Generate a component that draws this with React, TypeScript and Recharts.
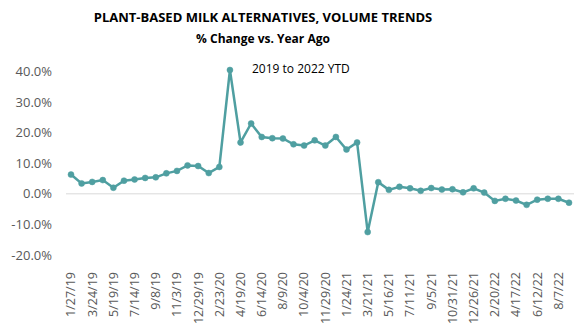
import React from 'react';
import { LineChart, Line, XAxis, YAxis, ReferenceLine } from 'recharts';

// 4-week periods, Jan 2019 to Sep 2022
const periods = [
  '1/27/19', '2/24/19', '3/24/19', '4/21/19', '5/19/19', '6/16/19', '7/14/19', '8/11/19',
  '9/8/19', '10/6/19', '11/3/19', '12/1/19', '12/29/19', '1/26/20', '2/23/20', '3/22/20',
  '4/19/20', '5/17/20', '6/14/20', '7/12/20', '8/9/20', '9/6/20', '10/4/20', '11/1/20',
  '11/29/20', '12/27/20', '1/24/21', '2/21/21', '3/21/21', '4/18/21', '5/16/21', '6/13/21',
  '7/11/21', '8/8/21', '9/5/21', '10/3/21', '10/31/21', '11/28/21', '12/26/21', '1/23/22',
  '2/20/22', '3/20/22', '4/17/22', '5/15/22', '6/12/22', '7/10/22', '8/7/22', '9/4/22',
];

const pctChange = [
  6.3, 3.4, 3.9, 4.5, 2.0, 4.3, 4.7, 5.2, 5.4, 6.7, 7.5, 9.3, 9.1, 6.8, 8.8, 40.5,
  16.8, 23.0, 18.6, 18.2, 18.1, 16.2, 15.8, 17.5, 15.8, 18.6, 14.5, 16.8, -12.5, 3.8, 1.3, 2.3,
  1.8, 1.0, 1.9, 1.4, 1.5, 0.5, 1.8, 0.4, -2.3, -1.6, -2.2, -3.6, -1.9, -1.6, -1.6, -2.9,
];

const yTicks = [-20, -10, 0, 10, 20, 30, 40];

const data = periods.map((p, i) => ({ period: p, value: pctChange[i] }));

const FONT = '"Open Sans", sans-serif';
const LINE = '#4f9fa1';

// only every other period gets a label (8-week steps)
const XTick = (props: any) => {
  const { x, y, payload, index } = props;
  if (index % 2 !== 0) return null;
  return (
    <text
      x={x}
      y={y + 9}
      transform={`rotate(-90, ${x}, ${y + 9})`}
      textAnchor="end"
      dy="0.35em"
      fontSize={12.5}
      fontFamily={FONT}
      fill="#595959"
    >
      {payload.value}
    </text>
  );
};

export default function App() {
  return (
    <div style={{ position: 'absolute', left: 0, top: 0, width: 584, height: 325, background: '#fff', fontFamily: FONT }}>
      <div style={{ position: 'absolute', left: 0, top: 8, width: 526, textAlign: 'center', fontWeight: 700, fontSize: 13, color: '#000' }}>
        PLANT-BASED MILK ALTERNATIVES, VOLUME TRENDS
      </div>
      <div style={{ position: 'absolute', left: 0, top: 30, width: 526, textAlign: 'center', fontWeight: 700, fontSize: 12, color: '#000' }}>
        % Change vs. Year Ago
      </div>
      <div style={{ position: 'absolute', left: 252, top: 60, fontSize: 12, color: '#000' }}>
        2019 to 2022 YTD
      </div>
      <LineChart width={584} height={325} data={data} margin={{ top: 70, right: 10, left: 0, bottom: 69 }}>
        <XAxis
          dataKey="period"
          interval={0}
          tick={<XTick />}
          tickLine={false}
          axisLine={false}
          padding={{ left: 5, right: 5 }}
          height={1}
        />
        <YAxis
          domain={[-20, 40]}
          ticks={yTicks}
          tickFormatter={(v: number) => `${v.toFixed(1)}%`}
          tickLine={false}
          axisLine={false}
          tickMargin={8}
          width={66}
          tick={{ fontSize: 13, fontFamily: FONT, fill: '#595959' }}
        />
        <ReferenceLine y={0} stroke="#d9d9d9" strokeWidth={1} />
        <Line
          type="linear"
          dataKey="value"
          stroke={LINE}
          strokeWidth={2.5}
          dot={{ r: 3, fill: LINE, stroke: LINE, strokeWidth: 0.5 }}
          isAnimationActive={false}
        />
      </LineChart>
    </div>
  );
}
